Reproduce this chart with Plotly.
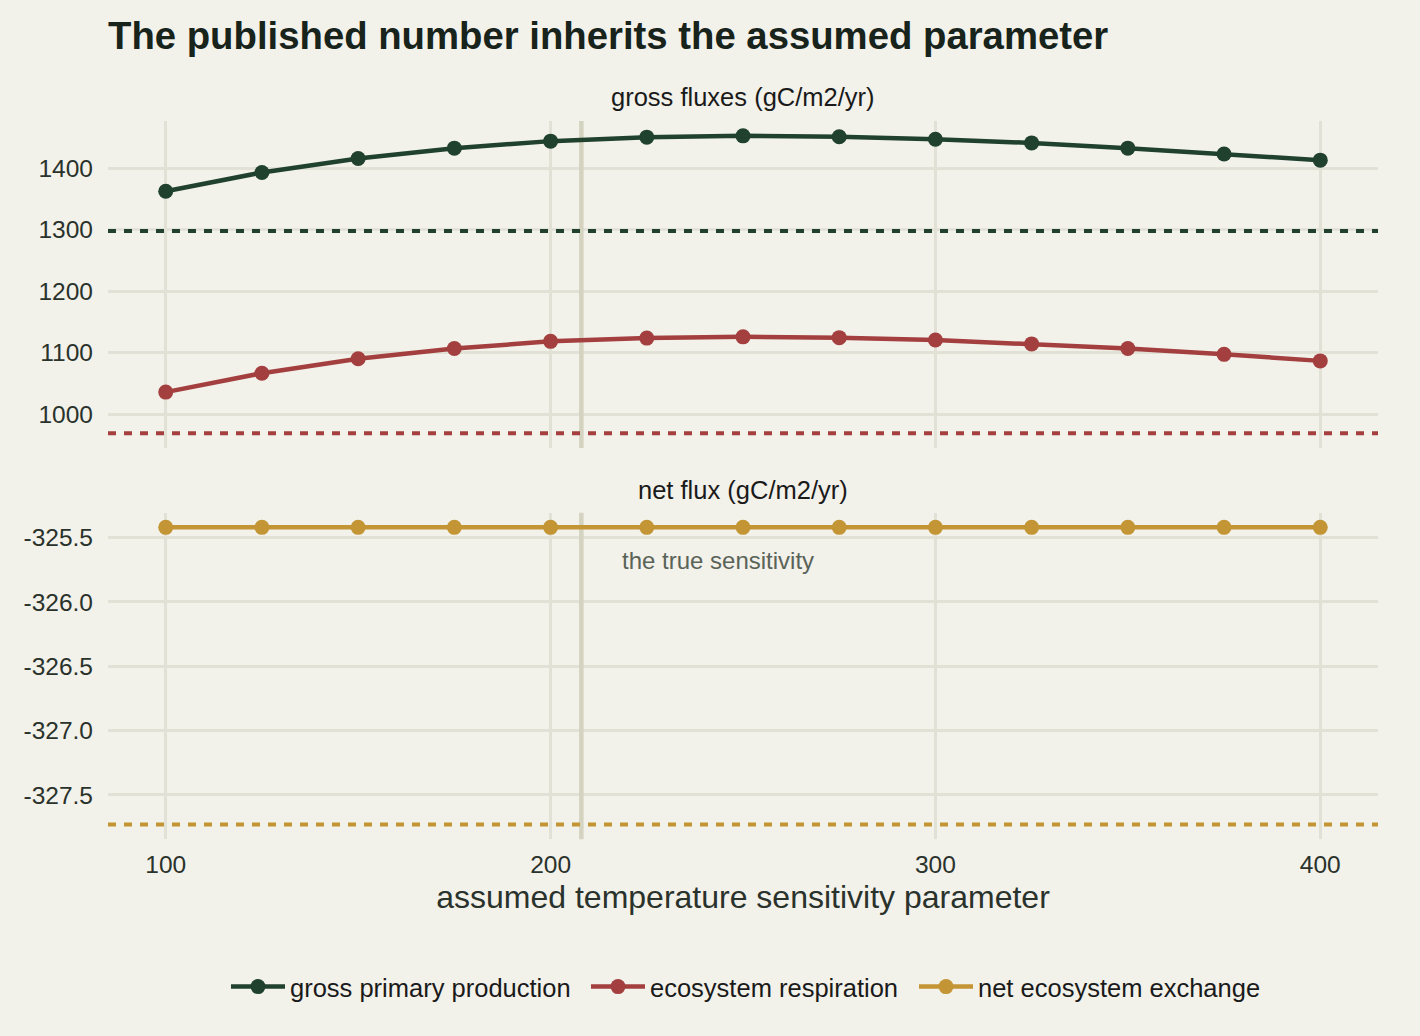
import plotly.graph_objects as go
from plotly.subplots import make_subplots

# ---- data ----
sensitivity = [100, 125, 150, 175, 200, 225, 250, 275, 300, 325, 350, 375, 400]
gpp = [1362.6, 1393.0, 1415.7, 1432.5, 1443.9, 1450.4, 1452.5, 1451.0, 1447.0, 1441.0, 1432.5, 1423.0, 1413.0]
er = [1036.3, 1067.0, 1090.5, 1107.0, 1118.7, 1124.0, 1126.0, 1124.7, 1121.0, 1114.6, 1107.0, 1097.6, 1087.0]
nee = [-325.42, -325.42, -325.42, -325.42, -325.42, -325.42, -325.42, -325.42, -325.42, -325.42, -325.42, -325.42, -325.42]
series_names = ["gross primary production", "ecosystem respiration", "net ecosystem exchange"]
true_gpp = 1297.8
true_er = 969.6
true_nee = -327.73
true_sensitivity = 208
x_range = [85, 415]
top_range = [945.5, 1476.6]
bottom_range = [-327.8455, -325.3045]
x_ticks = [100, 200, 300, 400]
top_ticks = [1000, 1100, 1200, 1300, 1400]
bottom_ticks = [-327.5, -327.0, -326.5, -326.0, -325.5]
bottom_ticktext = ["-327.5", "-327.0", "-326.5", "-326.0", "-325.5"]

# ---- style ----
W, H = 1420, 1036
BG = "#f2f1ea"
GRID = "#e2e1d6"
VLINE = "#d4d3c0"
TXT = "#2a322c"
C_GPP = "#1f412e"
C_ER = "#a33f3e"
C_NEE = "#c39535"
FONT = "Liberation Sans"

def py(p):
    return 1 - p / H

def px(p):
    return p / W

fig = make_subplots(rows=2, cols=1, shared_xaxes=True)

# true sensitivity vertical line (one per panel), drawn first: above grid, below data
for row, yr in [(1, top_range), (2, bottom_range)]:
    fig.add_trace(go.Scatter(x=[true_sensitivity, true_sensitivity], y=yr, mode="lines",
                             line=dict(color=VLINE, width=4.5), showlegend=False, hoverinfo="skip",
                             cliponaxis=True),
                  row=row, col=1)

# reference (true) values as dotted horizontal lines
for val, col, row in [(true_gpp, C_GPP, 1), (true_er, C_ER, 1), (true_nee, C_NEE, 2)]:
    fig.add_trace(go.Scatter(x=x_range, y=[val, val], mode="lines",
                             line=dict(color=col, width=4, dash="8px,8px"),
                             showlegend=False, hoverinfo="skip"),
                  row=row, col=1)

fig.add_trace(go.Scatter(x=sensitivity, y=gpp, mode="lines+markers", name=series_names[0],
                         legend="legend",
                         line=dict(color=C_GPP, width=4.5), marker=dict(color=C_GPP, size=15)),
              row=1, col=1)
fig.add_trace(go.Scatter(x=sensitivity, y=er, mode="lines+markers", name=series_names[1],
                         legend="legend2",
                         line=dict(color=C_ER, width=4.5), marker=dict(color=C_ER, size=15)),
              row=1, col=1)
fig.add_trace(go.Scatter(x=sensitivity, y=nee, mode="lines+markers", name=series_names[2],
                         legend="legend3",
                         line=dict(color=C_NEE, width=4.5), marker=dict(color=C_NEE, size=15)),
              row=2, col=1)

fig.add_annotation(x=218, y=-325.68, xref="x2", yref="y2", text="the true sensitivity",
                   showarrow=False, xanchor="left", yanchor="middle",
                   font=dict(family=FONT, size=24, color="#5a6358"))

# strip titles
fig.add_annotation(x=0.5, xref="x domain", y=py(97), yref="paper", text="gross fluxes (gC/m2/yr)",
                   showarrow=False, xanchor="center", yanchor="middle",
                   font=dict(family=FONT, size=25.5, color="#1a1a1a"))
fig.add_annotation(x=0.5, xref="x2 domain", y=py(490), yref="paper", text="net flux (gC/m2/yr)",
                   showarrow=False, xanchor="center", yanchor="middle",
                   font=dict(family=FONT, size=25.5, color="#1a1a1a"))

axis_common = dict(showgrid=True, gridcolor=GRID, gridwidth=3, zeroline=False, showline=False,
                   ticks="", tickfont=dict(family=FONT, size=24.5, color=TXT))

legend_common = dict(orientation="h", xanchor="left", y=py(987), yanchor="middle",
                     font=dict(family=FONT, size=25.5, color="#1a1a1a"),
                     bgcolor="rgba(0,0,0,0)", itemwidth=54)

fig.update_layout(
    width=W, height=H,
    paper_bgcolor=BG, plot_bgcolor=BG,
    margin=dict(l=0, r=0, t=0, b=0),
    title=dict(text="The published number inherits the assumed parameter",
               x=px(108), xanchor="left", y=py(36), yanchor="middle",
               font=dict(family=FONT, size=38.3, color="#17231b", weight="bold")),
    showlegend=True,
    legend=dict(x=px(226), **legend_common),
    legend2=dict(x=px(586), **legend_common),
    legend3=dict(x=px(914), **legend_common),
    xaxis=dict(domain=[px(108), px(1378)], range=x_range, tickvals=x_ticks,
               showticklabels=False, **axis_common),
    xaxis2=dict(domain=[px(108), px(1378)], range=x_range, tickvals=x_ticks,
                showticklabels=True, ticklabelstandoff=8,
                title=dict(text="assumed temperature sensitivity parameter", standoff=8,
                           font=dict(family=FONT, size=32, color=TXT)),
                **axis_common),
    yaxis=dict(domain=[py(448), py(121)], range=top_range, tickvals=top_ticks,
               ticklabelstandoff=14, **axis_common),
    yaxis2=dict(domain=[py(839.4), py(512.5)], range=bottom_range, tickvals=bottom_ticks,
                ticktext=bottom_ticktext, ticklabelstandoff=14, **axis_common),
)

fig.write_html("out.html", config={"displayModeBar": False},
               post_script="document.body.style.margin='0';document.body.style.background='%s';" % BG)
